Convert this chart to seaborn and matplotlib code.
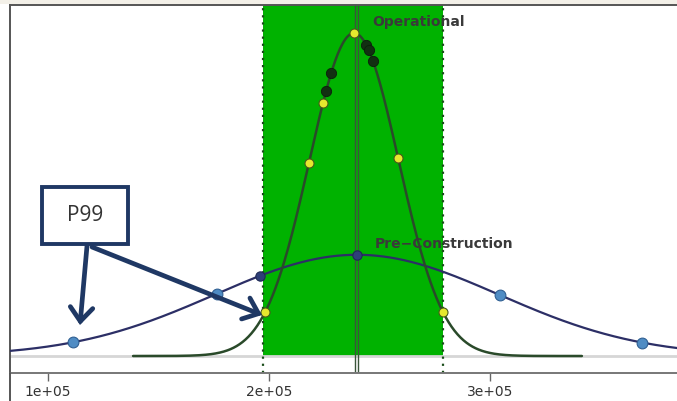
import numpy as np
import pandas as pd
import matplotlib
matplotlib.use("Agg")
import matplotlib.pyplot as plt
import seaborn as sns
from matplotlib.patches import Rectangle, FancyArrowPatch
from matplotlib.lines import Line2D

# ---- data ----
op_mean, op_sd = 2.385e5, 0.2014e5          # Operational distribution
pre_mean, pre_sd = 2.398e5, 0.6425e5        # Pre-Construction distribution
op_range = [1.385e5, 3.416e5]               # drawn extent of the operational curve
band = [1.973e5, 2.787e5]                   # green band
vline_x = 2.395e5                           # vertical reference line
op_quant_x = [1.982e5, 2.181e5, 2.244e5, 2.385e5, 2.584e5, 2.787e5]   # yellow points
op_obs_x = [2.258e5, 2.281e5, 2.440e5, 2.452e5, 2.471e5]              # dark points
pre_outer_x = [1.113e5, 1.765e5, 3.045e5, 3.688e5]                    # light blue points
pre_inner_x = [1.959e5, 2.398e5]                                       # navy points
xticks = [1e5, 2e5, 3e5]
xtick_labels = ["1e+05", "2e+05", "3e+05"]
labels = {"Operational": (2.466e5, 2.055e-5), "Pre\u2212Construction": (2.48e5, 6.93e-6)}

def pdf(x, m, s):
    x = np.asarray(x, dtype=float)
    return np.exp(-0.5 * ((x - m) / s) ** 2) / (s * np.sqrt(2 * np.pi))

xlim = (0.828e5, 3.860e5)
ylim = (-1.043e-6, 2.153e-5)

sns.set_style("white")
plt.rcParams['font.family'] = ['DejaVu Sans']

W, H = 677, 402
fig = plt.figure(figsize=(W / 100, H / 100), dpi=100)
fig.patch.set_facecolor("white")
ax = fig.add_axes([10 / W, (H - 374) / H, (680 - 10) / W, (374 - 6) / H])
ax.set_facecolor("white")

green = "#00b200"
ax.fill_between(band, 0, ylim[1], color=green, lw=0, zorder=0.5)
for bx in band:
    ax.axvline(bx, color="#1b4d1b", lw=1.6, ls=(0, (1, 2.2)), zorder=1)
ax.axhline(0, color="#d6d6d6", lw=2, zorder=0.8)
ax.axvline(vline_x - 700, color="#3b553b", lw=1.0, zorder=2)
ax.axvline(vline_x + 700, color="#3b553b", lw=1.0, zorder=2)

xs_pre = np.linspace(xlim[0], xlim[1], 600)
df_pre = pd.DataFrame({"x": xs_pre, "y": pdf(xs_pre, pre_mean, pre_sd)})
xs_op = np.linspace(op_range[0], op_range[1], 600)
df_op = pd.DataFrame({"x": xs_op, "y": pdf(xs_op, op_mean, op_sd)})

sns.lineplot(data=df_pre, x="x", y="y", ax=ax, color="#2c2f66", lw=1.6, estimator=None, zorder=3)
sns.lineplot(data=df_op, x="x", y="y", ax=ax, color="#2a4a2a", lw=1.8, estimator=None, zorder=3)

sns.scatterplot(x=pre_outer_x, y=pdf(pre_outer_x, pre_mean, pre_sd), ax=ax, s=60,
                color="#4f8cc4", edgecolor="#2f5f92", linewidth=0.8, zorder=4)
sns.scatterplot(x=pre_inner_x, y=pdf(pre_inner_x, pre_mean, pre_sd), ax=ax, s=45,
                color="#2e3f78", edgecolor="#1e2a55", linewidth=0.8, zorder=4)
sns.scatterplot(x=op_obs_x, y=pdf(op_obs_x, op_mean, op_sd), ax=ax, s=55,
                color="#123012", edgecolor="#0a200a", linewidth=0.6, zorder=4)
sns.scatterplot(x=op_quant_x, y=pdf(op_quant_x, op_mean, op_sd), ax=ax, s=42,
                color="#e6e82e", edgecolor="#4a5a1a", linewidth=0.8, zorder=5)

for txt, (tx, ty) in labels.items():
    ax.text(tx, ty, txt, fontsize=10, fontweight="bold", color="#3a3a3a",
            ha="left", va="center", zorder=6)

ax.set_xlim(*xlim)
ax.set_ylim(*ylim)
ax.set_xticks(xticks)
ax.set_xticklabels(xtick_labels)
ax.set_yticks([])
ax.set_xlabel("")
ax.set_ylabel("")
ax.tick_params(axis="x", direction="out", length=6, width=1, color="#666666",
               labelsize=10, labelcolor="#333333", pad=2, bottom=True)
for side in ["top", "bottom", "left"]:
    ax.spines[side].set_visible(True)
    ax.spines[side].set_linewidth(1.4)
ax.spines["top"].set_color("#555555")
ax.spines["bottom"].set_color("#777777")
ax.spines["left"].set_color("#555555")
ax.spines["right"].set_visible(False)

# outer decorations
fig.add_artist(Rectangle((0, 1 - 5 / H), 1, 5 / H, transform=fig.transFigure,
                         fc="#f3f0e8", ec="none", zorder=0))
fig.add_artist(Line2D([10 / W, 10 / W], [0, (H - 374) / H], transform=fig.transFigure,
                      color="#555555", lw=1.4))

# P99 callout
navy = "#1f3864"
fig.add_artist(Rectangle((42 / W, 1 - 245 / H), 86 / W, 57 / H, transform=fig.transFigure,
                         fc="white", ec=navy, lw=2.8, zorder=10))
fig.text(85 / W, 1 - 216 / H, "P99", fontsize=15, color="#333333", ha="center",
         va="center", family=["Open Sans", "DejaVu Sans"], zorder=11)
for (x0, y0), (x1, y1) in [((87, 247), (80, 326)), ((92, 248), (262, 316))]:
    fig.add_artist(FancyArrowPatch((x0 / W, 1 - y0 / H), (x1 / W, 1 - y1 / H),
                                   transform=fig.transFigure,
                                   arrowstyle="->,head_length=0.55,head_width=0.45",
                                   mutation_scale=18, lw=3.4, color=navy, zorder=9,
                                   shrinkA=0, shrinkB=0, capstyle="round", joinstyle="miter"))

fig.savefig("out.png", dpi=100, facecolor="white")
